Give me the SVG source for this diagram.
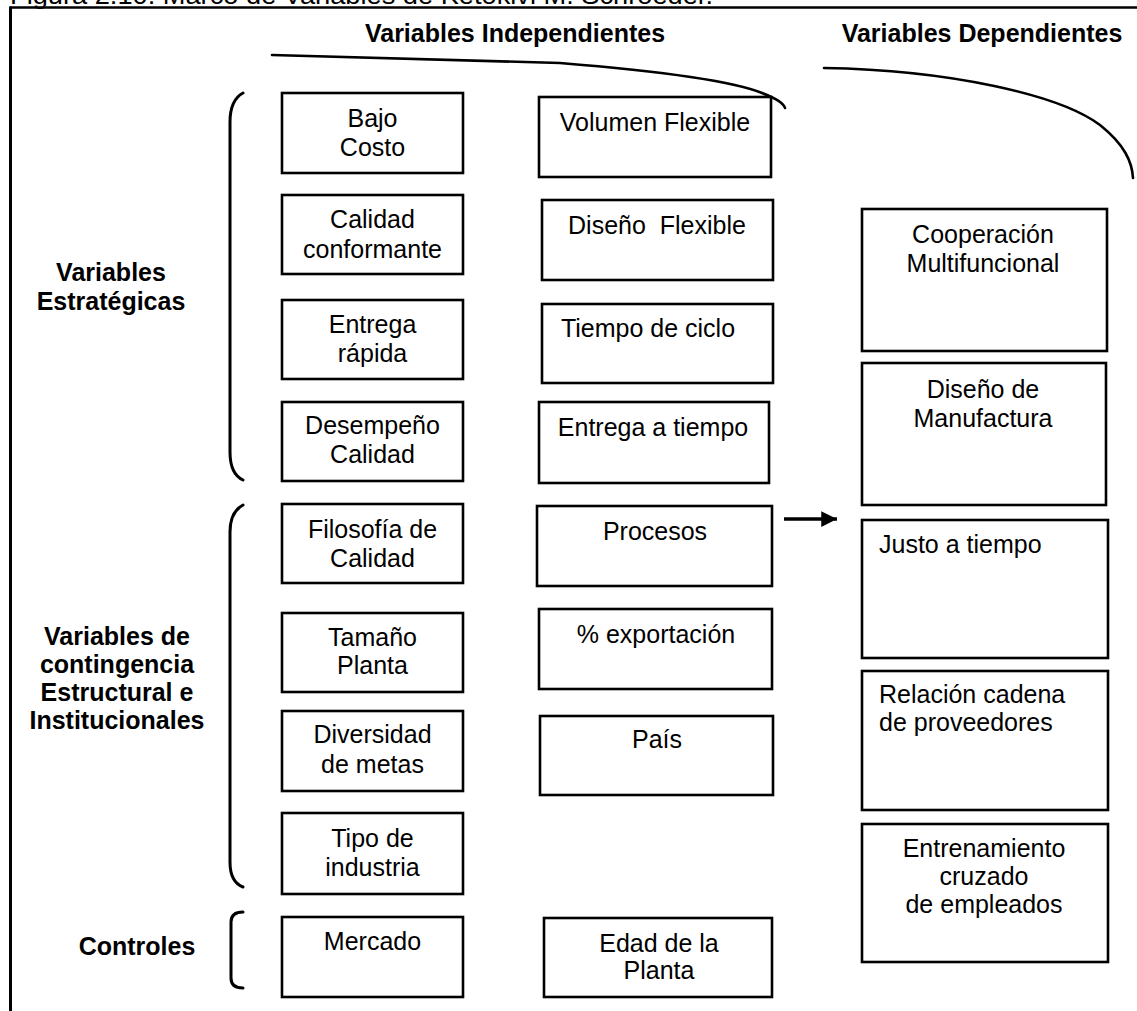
<svg xmlns="http://www.w3.org/2000/svg" width="1137" height="1011" viewBox="0 0 1137 1011">
<style>
  text { font-family: "Liberation Sans", Arial, sans-serif; font-size: 25px; fill: #000; }
  .b { font-weight: bold; }
  .c { text-anchor: middle; }
  .box { fill: #fff; stroke: #000; stroke-width: 2.6; }
  .ln { fill: none; stroke: #000; stroke-width: 2.6; stroke-linecap: round; }
  .brk { fill: none; stroke: #000; stroke-width: 3; stroke-linecap: round; }
</style>
<defs>
  <marker id="ah" viewBox="0 0 10 10" refX="10" refY="5" markerWidth="5" markerHeight="4.5" markerUnits="strokeWidth" orient="auto">
    <path d="M0,0 L10,5 L0,10 z" fill="#000"/>
  </marker>
</defs>
<rect x="0" y="0" width="1137" height="1011" fill="#fff"/>

<!-- caption (cut at top) -->
<text x="10" y="4" textLength="703" lengthAdjust="spacingAndGlyphs">Figura 2.10. Marco de Variables de Ketokivi M. Schroeder.</text>

<!-- frame -->
<g id="frame">
  <line x1="10" y1="7.5" x2="1137" y2="7.5" stroke="#000" stroke-width="2.5"/>
  <line x1="10.5" y1="6.5" x2="10.5" y2="1011" stroke="#000" stroke-width="3"/>
</g>

<!-- headers -->
<g id="headers">
  <text class="b c" x="515" y="42">Variables Independientes</text>
  <text class="b c" x="982" y="42">Variables Dependientes</text>
  <path class="ln" d="M272,55 L560,63 Q720,76 762,93 Q783,101 785,108"/>
  <path class="ln" d="M824,68 C950,70 1060,95 1100,125 C1125,145 1132,162 1133,178"/>
</g>

<!-- group labels and brackets -->
<g id="grp-estrategicas">
  <text class="b c" x="111" y="281">Variables</text>
  <text class="b c" x="111" y="310">Estratégicas</text>
  <path class="brk" d="M243,93 Q230,100 230,122 L230,452 Q230,474 243,480"/>
</g>
<g id="grp-contingencia">
  <text class="b c" x="117" y="645">Variables de</text>
  <text class="b c" x="117" y="673">contingencia</text>
  <text class="b c" x="117" y="701">Estructural e</text>
  <text class="b c" x="117" y="729">Institucionales</text>
  <path class="brk" d="M243,505 Q230,512 230,532 L230,862 Q230,882 243,887"/>
</g>
<g id="grp-controles">
  <text class="b c" x="137" y="955">Controles</text>
  <path class="brk" d="M243,912 Q231,912 231,922 L231,978 Q231,988 243,988"/>
</g>

<!-- column 1 -->
<g id="n-bajo-costo"><rect class="box" x="282" y="93" width="181" height="80"/><text class="c" x="372.5" y="127">Bajo</text><text class="c" x="372.5" y="156">Costo</text></g>
<g id="n-calidad-conformante"><rect class="box" x="282" y="195" width="181" height="79"/><text class="c" x="372.5" y="228">Calidad</text><text class="c" x="372.5" y="258">conformante</text></g>
<g id="n-entrega-rapida"><rect class="box" x="282" y="300" width="181" height="79"/><text class="c" x="372.5" y="333">Entrega</text><text class="c" x="372.5" y="362">rápida</text></g>
<g id="n-desempeno-calidad"><rect class="box" x="282" y="402" width="181" height="79"/><text class="c" x="372.5" y="434">Desempeño</text><text class="c" x="372.5" y="463">Calidad</text></g>
<g id="n-filosofia"><rect class="box" x="282" y="504" width="181" height="79"/><text class="c" x="372.5" y="538">Filosofía de</text><text class="c" x="372.5" y="567">Calidad</text></g>
<g id="n-tamano"><rect class="box" x="282" y="613" width="181" height="79"/><text class="c" x="372.5" y="646">Tamaño</text><text class="c" x="372.5" y="674">Planta</text></g>
<g id="n-diversidad"><rect class="box" x="282" y="711" width="181" height="80"/><text class="c" x="372.5" y="743">Diversidad</text><text class="c" x="372.5" y="773">de metas</text></g>
<g id="n-tipo"><rect class="box" x="282" y="813" width="181" height="81"/><text class="c" x="372.5" y="847">Tipo de</text><text class="c" x="372.5" y="876">industria</text></g>
<g id="n-mercado"><rect class="box" x="282" y="917" width="181" height="80"/><text class="c" x="372.5" y="950">Mercado</text></g>

<!-- column 2 -->
<g id="n-volumen"><rect class="box" x="539" y="97" width="232" height="80"/><text class="c" x="655" y="131">Volumen Flexible</text></g>
<g id="n-diseno-flexible"><rect class="box" x="542" y="200" width="231" height="80"/><text class="c" x="657" y="234" xml:space="preserve">Diseño  Flexible</text></g>
<g id="n-tiempo-ciclo"><rect class="box" x="542" y="304" width="231" height="79"/><text class="c" x="648" y="337">Tiempo de ciclo</text></g>
<g id="n-entrega-tiempo"><rect class="box" x="539" y="402" width="230" height="81"/><text class="c" x="653" y="436">Entrega a tiempo</text></g>
<g id="n-procesos"><rect class="box" x="537" y="506" width="235" height="80"/><text class="c" x="655" y="540">Procesos</text></g>
<g id="n-exportacion"><rect class="box" x="539" y="609" width="233" height="80"/><text class="c" x="656" y="643">% exportación</text></g>
<g id="n-pais"><rect class="box" x="540" y="716" width="233" height="79"/><text class="c" x="657" y="748">País</text></g>
<g id="n-edad"><rect class="box" x="544" y="918" width="228" height="79"/><text class="c" x="659" y="952">Edad de la</text><text class="c" x="659" y="979">Planta</text></g>

<!-- column 3 -->
<g id="n-cooperacion"><rect class="box" x="862" y="209" width="245" height="142"/><text class="c" x="983" y="243">Cooperación</text><text class="c" x="983" y="272">Multifuncional</text></g>
<g id="n-diseno-manufactura"><rect class="box" x="862" y="363" width="244" height="142"/><text class="c" x="983" y="398">Diseño de</text><text class="c" x="983" y="427">Manufactura</text></g>
<g id="n-jit"><rect class="box" x="862" y="520" width="246" height="138"/><text x="879" y="553">Justo a tiempo</text></g>
<g id="n-relacion"><rect class="box" x="862" y="671" width="246" height="139"/><text x="879" y="703">Relación cadena</text><text x="879" y="731">de proveedores</text></g>
<g id="n-entrenamiento"><rect class="box" x="862" y="824" width="246" height="138"/><text class="c" x="984" y="857">Entrenamiento</text><text class="c" x="984" y="885">cruzado</text><text class="c" x="984" y="913">de empleados</text></g>

<!-- connectors -->
<g id="connectors">
  <line x1="784" y1="519" x2="837" y2="519" stroke="#000" stroke-width="3.5" marker-end="url(#ah)"/>
</g>
</svg>
